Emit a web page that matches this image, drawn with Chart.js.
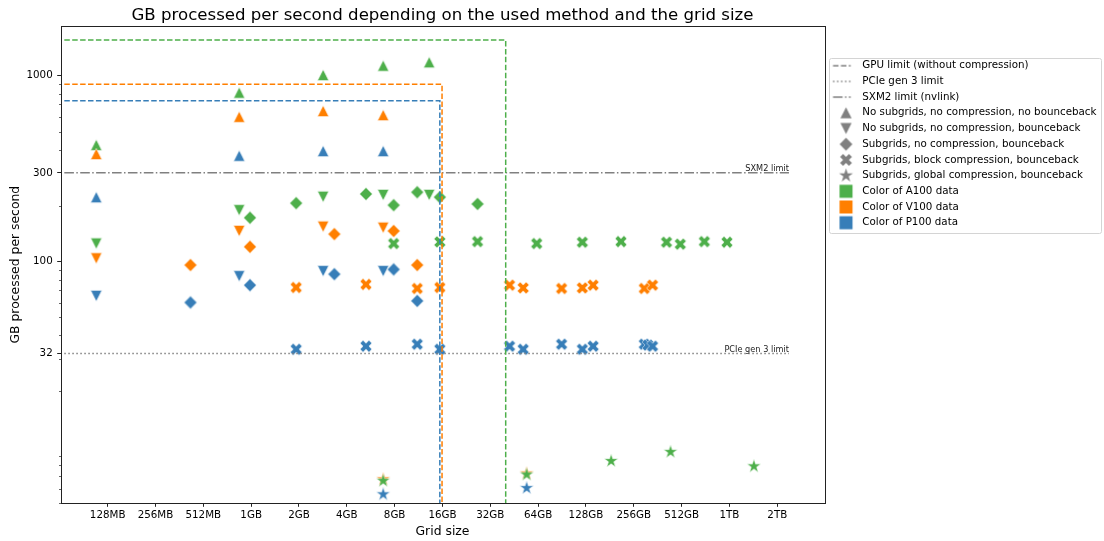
<!DOCTYPE html>
<html>
<head>
<meta charset="utf-8">
<title>GB processed per second</title>
<script src="https://cdn.jsdelivr.net/npm/chart.js@4/dist/chart.umd.min.js"></script>
<style>
  html, body { margin: 0; padding: 0; background: #fff; }
  canvas { display: block; }
</style>
</head>
<body>
<canvas id="myChart" width="1104" height="541"></canvas>
<script>
// grid size in GB, throughput in GB/s
var a100NoSubNoBb = [[0.106, 424], [0.841, 810], [2.84, 1009], [6.78, 1132], [13.2, 1181]];
var a100NoSubBb = [[0.106, 125], [0.841, 189], [2.84, 223], [6.78, 228], [13.2, 228]];
var a100SubNoComp = [[0.983, 172], [1.92, 206], [5.28, 231], [7.89, 201], [11.1, 236], [15.4, 222], [26.6, 204]];
var a100SubBlock = [[7.89, 125], [15.4, 127.5], [26.6, 128], [62.7, 125], [121.5, 127], [212.6, 128], [411.6, 127], [502, 124], [711.6, 128], [988, 127]];
var a100SubGlobal = [[6.78, 6.61], [54.2, 7.14], [184.4, 8.45], [436, 9.45], [1460, 7.91]];

var v100NoSubNoBb = [[0.106, 379], [0.841, 601], [2.84, 646], [6.78, 614]];
var v100NoSubBb = [[0.106, 104], [0.841, 146], [2.84, 154], [6.78, 152]];
var v100SubNoComp = [[0.415, 95.7], [0.983, 120], [3.34, 140.5], [7.89, 146], [11.1, 95.7]];
var v100SubBlock = [[1.92, 72.5], [5.28, 75.3], [11.1, 71.6], [15.4, 72.5], [42.3, 74.6], [51.5, 72.1], [89.9, 71.6], [121.5, 72.1], [142, 74.6], [298, 71.6], [336, 74.6]];
var v100SubGlobal = [[6.78, 6.73], [54.2, 7.23]];

var p100NoSubNoBb = [[0.106, 222], [0.841, 371], [2.84, 393], [6.78, 393]];
var p100NoSubBb = [[0.106, 65.3], [0.841, 83.4], [2.84, 88.8], [6.78, 88.8]];
var p100SubNoComp = [[0.415, 60.2], [0.983, 74.6], [3.34, 85.5], [7.89, 90.7], [11.1, 61.4]];
var p100SubBlock = [[1.92, 33.7], [5.28, 35.0], [11.1, 35.9], [15.4, 33.7], [42.3, 35.0], [51.5, 33.7], [89.9, 35.9], [121.5, 33.7], [142, 35.0], [298, 35.9], [314, 35.5], [336, 35.0]];
var p100SubGlobal = [[6.78, 5.59], [54.2, 6.04]];

// limits
var gpuBandwidth = [1555, 900, 732];   // A100, V100, P100
var gpuMemory = [40, 15.9, 15.4];
var pcieLimit = 32;
var sxm2Limit = 300;
var limitStartX = 0.0667;
var limitEndX = 2426;

// axes
var xTickValues = [0.125, 0.25, 0.5, 1, 2, 4, 8, 16, 32, 64, 128, 256, 512, 1024, 2048];
var xTickLabels = ['128MB', '256MB', '512MB', '1GB', '2GB', '4GB', '8GB', '16GB', '32GB', '64GB', '128GB', '256GB', '512GB', '1TB', '2TB'];
var yTickValues = [32, 100, 300, 1000];
var yTickLabels = ['32', '100', '300', '1000'];
var xMin = 0.0633, xMax = 4048;
var yMin = 5, yMax = 1850;

var legendTexts = [
    'GPU limit (without compression)',
    'PCIe gen 3 limit',
    'SXM2 limit (nvlink)',
    'No subgrids, no compression, no bounceback',
    'No subgrids, no compression, bounceback',
    'Subgrids, no compression, bounceback',
    'Subgrids, block compression, bounceback',
    'Subgrids, global compression, bounceback',
    'Color of A100 data',
    'Color of V100 data',
    'Color of P100 data'
];

var GREEN = '#4daf4a', ORANGE = '#ff7f00', BLUE = '#377eb8', GREY = '#808080';
var FONT = '"DejaVu Sans", "Liberation Sans", sans-serif';

// --- marker shapes, drawn like matplotlib's ^ v D X * ---
function shapePath(g, shape, cx, cy) {
    g.beginPath();
    if (shape === 'up') {
        g.moveTo(cx, cy - 5.6); g.lineTo(cx + 5.6, cy + 5.6); g.lineTo(cx - 5.6, cy + 5.6);
    } else if (shape === 'down') {
        g.moveTo(cx, cy + 5.6); g.lineTo(cx + 5.6, cy - 5.6); g.lineTo(cx - 5.6, cy - 5.6);
    } else if (shape === 'diamond') {
        g.moveTo(cx, cy - 6.4); g.lineTo(cx + 6.4, cy); g.lineTo(cx, cy + 6.4); g.lineTo(cx - 6.4, cy);
    } else if (shape === 'x') {
        var v = [[-1, -2], [0, -1], [1, -2], [2, -1], [1, 0], [2, 1], [1, 2], [0, 1], [-1, 2], [-2, 1], [-1, 0], [-2, -1]];
        var s = 11.8 / 4;
        v.forEach(function(p, i) {
            if (i === 0) g.moveTo(cx + p[0] * s, cy + p[1] * s);
            else g.lineTo(cx + p[0] * s, cy + p[1] * s);
        });
    } else if (shape === 'star') {
        var r = 7.3, ri = r * 0.382;
        for (var i = 0; i < 10; i++) {
            var a = -Math.PI / 2 + i * Math.PI / 5;
            var rr = i % 2 === 0 ? r : ri;
            if (i === 0) g.moveTo(cx + rr * Math.cos(a), cy + rr * Math.sin(a));
            else g.lineTo(cx + rr * Math.cos(a), cy + rr * Math.sin(a));
        }
    } else if (shape === 'square') {
        g.rect(cx - 6.5, cy - 6.5, 13, 13);
    }
    g.closePath();
}

function makeMarker(shape, color) {
    var c = document.createElement('canvas');
    c.width = 20; c.height = 20;
    var g = c.getContext('2d');
    shapePath(g, shape, 10, 10);
    g.fillStyle = color;
    g.fill();
    g.lineWidth = 0.6;
    g.strokeStyle = 'rgba(255,255,255,0.85)';
    g.stroke();
    return c;
}

// legend icon: canvas centred on the legend box centre, shape shifted to match
function makeLegendIcon(kind, color) {
    var c = document.createElement('canvas');
    c.width = 32; c.height = 16;
    var g = c.getContext('2d');
    if (kind === 'dash' || kind === 'dot' || kind === 'dashdot') {
        g.strokeStyle = color;
        g.lineWidth = 1.5;
        if (kind === 'dash') g.setLineDash([5.5, 2.4]);
        if (kind === 'dot') g.setLineDash([1.5, 2.5]);
        if (kind === 'dashdot') g.setLineDash([9.6, 2.4, 1.5, 2.4]);
        g.beginPath();
        g.moveTo(5.6, 8); g.lineTo(23.3, 8);
        g.stroke();
    } else {
        shapePath(g, kind, 18.6, 8);
        g.fillStyle = color;
        g.fill();
    }
    return c;
}

function pts(arr) {
    return arr.map(function(p) { return {x: p[0], y: p[1]}; });
}

function markerSet(label, arr, shape, color, order) {
    return {
        label: label,
        data: pts(arr),
        pointStyle: makeMarker(shape, color),
        pointRadius: 6,
        showLine: false,
        order: order
    };
}

function limitLine(i, color) {
    return {
        label: 'limit',
        data: [{x: limitStartX, y: gpuBandwidth[i]}, {x: gpuMemory[i], y: gpuBandwidth[i]}, {x: gpuMemory[i], y: yMin}],
        showLine: true,
        borderColor: color,
        borderWidth: 1.5,
        borderDash: [5.5, 2.4],
        pointRadius: 0,
        fill: false,
        order: 0
    };
}

var datasets = [
    limitLine(0, GREEN),
    limitLine(1, ORANGE),
    limitLine(2, BLUE),
    {
        label: 'pcie', data: [{x: limitStartX, y: pcieLimit}, {x: limitEndX, y: pcieLimit}],
        showLine: true, borderColor: GREY, borderWidth: 1.5, borderDash: [1.5, 2.5], pointRadius: 0, order: 0
    },
    {
        label: 'sxm2', data: [{x: limitStartX, y: sxm2Limit}, {x: limitEndX, y: sxm2Limit}],
        showLine: true, borderColor: GREY, borderWidth: 1.5, borderDash: [9.6, 2.4, 1.5, 2.4], pointRadius: 0, order: 0
    },
    markerSet('A100 up', a100NoSubNoBb, 'up', GREEN, 3),
    markerSet('V100 up', v100NoSubNoBb, 'up', ORANGE, 2),
    markerSet('P100 up', p100NoSubNoBb, 'up', BLUE, 1),
    markerSet('A100 down', a100NoSubBb, 'down', GREEN, 3),
    markerSet('V100 down', v100NoSubBb, 'down', ORANGE, 2),
    markerSet('P100 down', p100NoSubBb, 'down', BLUE, 1),
    markerSet('A100 diamond', a100SubNoComp, 'diamond', GREEN, 3),
    markerSet('V100 diamond', v100SubNoComp, 'diamond', ORANGE, 2),
    markerSet('P100 diamond', p100SubNoComp, 'diamond', BLUE, 1),
    markerSet('A100 block', a100SubBlock, 'x', GREEN, 3),
    markerSet('V100 block', v100SubBlock, 'x', ORANGE, 2),
    markerSet('P100 block', p100SubBlock, 'x', BLUE, 1),
    markerSet('A100 global', a100SubGlobal, 'star', GREEN, 1),
    markerSet('V100 global', v100SubGlobal, 'star', ORANGE, 2),
    markerSet('P100 global', p100SubGlobal, 'star', BLUE, 3)
];

var legendIcons = [
    makeLegendIcon('dash', GREY), makeLegendIcon('dot', GREY), makeLegendIcon('dashdot', GREY),
    makeLegendIcon('up', GREY), makeLegendIcon('down', GREY), makeLegendIcon('diamond', GREY),
    makeLegendIcon('x', GREY), makeLegendIcon('star', GREY),
    makeLegendIcon('square', GREEN), makeLegendIcon('square', ORANGE), makeLegendIcon('square', BLUE)
];

// fixed legend width so the plot area ends where the reference one does
var legendFit = {
    id: 'legendFit',
    afterInit: function(chart) {
        var legend = chart.legend;
        var fit = legend.fit;
        legend.fit = function() {
            fit.call(this);
            this.width = 279.7;
        };
    }
};

var extras = {
    id: 'extras',
    afterDatasetsDraw: function(chart) {
        var ctx = chart.ctx, xs = chart.scales.x, ys = chart.scales.y;
        var xe = xs.getPixelForValue(limitEndX);
        ctx.save();
        ctx.font = '8.2px ' + FONT;
        ctx.fillStyle = '#222';
        ctx.textAlign = 'right';
        ctx.textBaseline = 'bottom';
        ctx.fillText('SXM2 limit', xe, ys.getPixelForValue(sxm2Limit));
        ctx.fillText('PCIe gen 3 limit', xe, ys.getPixelForValue(pcieLimit));
        ctx.restore();
    },
    afterDraw: function(chart) {
        var ctx = chart.ctx, a = chart.chartArea, ys = chart.scales.y;
        ctx.save();
        // axes frame
        ctx.strokeStyle = '#222';
        ctx.lineWidth = 1;
        ctx.strokeRect(Math.round(a.left) + 0.5, Math.round(a.top) + 0.5, Math.round(a.right - a.left), Math.round(a.bottom - a.top));
        // minor log ticks on y
        ctx.lineWidth = 0.7;
        for (var d = 1; d <= 1000; d *= 10) {
            for (var m = 2; m <= 9; m++) {
                var v = d * m;
                if (v < yMin || v > yMax || yTickValues.indexOf(v) >= 0) continue;
                var y = Math.round(ys.getPixelForValue(v)) + 0.5;
                ctx.beginPath();
                ctx.moveTo(Math.round(a.left) - 2, y);
                ctx.lineTo(Math.round(a.left), y);
                ctx.stroke();
            }
        }
        // legend frame
        var hb = chart.legend.legendHitBoxes;
        if (hb && hb.length) {
            var first = hb[0], last = hb[hb.length - 1];
            var l = Math.round(first.left) - 0.5, t = Math.round(first.top - 2.5) + 0.5;
            var r = chart.width - 2.5, b = Math.round(last.top + last.height + 5) + 0.5;
            ctx.strokeStyle = '#d4d4d4';
            ctx.lineWidth = 1;
            ctx.beginPath();
            if (ctx.roundRect) ctx.roundRect(l, t, r - l, b - t, 2);
            else ctx.rect(l, t, r - l, b - t);
            ctx.stroke();
        }
        ctx.restore();
    }
};

Chart.defaults.font.family = FONT;
Chart.defaults.color = '#000';

var ctx = document.getElementById('myChart').getContext('2d');
var chart = new Chart(ctx, {
    type: 'scatter',
    data: { datasets: datasets },
    options: {
        responsive: false,
        devicePixelRatio: 1,
        animation: false,
        events: [],
        layout: { padding: 0 },
        plugins: {
            tooltip: { enabled: false },
            title: {
                display: true,
                text: 'GB processed per second depending on the used method and the grid size',
                font: { size: 16.6, weight: 'normal' },
                color: '#000',
                fullSize: false,
                padding: { top: 5.6, bottom: 0.5 }
            },
            legend: {
                display: true,
                position: 'right',
                align: 'start',
                title: { display: true, text: '', font: { size: 1, lineHeight: '55.15px' }, padding: 0 },
                labels: {
                    usePointStyle: true,
                    boxWidth: 27.45,
                    pointStyleWidth: 27.45,
                    padding: 5.4,
                    color: '#000',
                    font: { size: 10.3 },
                    generateLabels: function() {
                        return legendTexts.map(function(t, i) {
                            return { text: t, pointStyle: legendIcons[i], fillStyle: 'transparent', strokeStyle: 'transparent', lineWidth: 0, hidden: false };
                        });
                    }
                }
            }
        },
        scales: {
            x: {
                type: 'logarithmic',
                min: xMin,
                max: xMax,
                bounds: 'data',
                afterBuildTicks: function(axis) {
                    axis.ticks = xTickValues.map(function(v) { return {value: v}; });
                },
                afterFit: function(axis) { axis.height = 37.7; },
                grid: { drawOnChartArea: false, drawTicks: true, tickLength: 3.5, tickColor: '#222', tickWidth: 1 },
                border: { display: false },
                ticks: {
                    autoSkip: false, maxRotation: 0, padding: 2.5,
                    font: { size: 10.3 }, color: '#000',
                    callback: function(v, i) { return xTickLabels[i]; }
                },
                title: { display: true, text: 'Grid size', font: { size: 12.4 }, color: '#000', padding: { top: 0, bottom: 1.6 } }
            },
            y: {
                type: 'logarithmic',
                min: yMin,
                max: yMax,
                bounds: 'data',
                afterBuildTicks: function(axis) {
                    axis.ticks = yTickValues.map(function(v) { return {value: v}; });
                },
                afterFit: function(axis) { axis.width = 60.7; },
                grid: { drawOnChartArea: false, drawTicks: true, tickLength: 3.5, tickColor: '#222', tickWidth: 1 },
                border: { display: false },
                ticks: {
                    autoSkip: false, padding: 4.5,
                    font: { size: 10.3 }, color: '#000',
                    callback: function(v, i) { return yTickLabels[i]; }
                },
                title: { display: true, text: 'GB processed per second', font: { size: 12.4 }, color: '#000', padding: { top: 8.1, bottom: 0 } }
            }
        }
    },
    plugins: [legendFit, extras]
});
</script>
</body>
</html>
